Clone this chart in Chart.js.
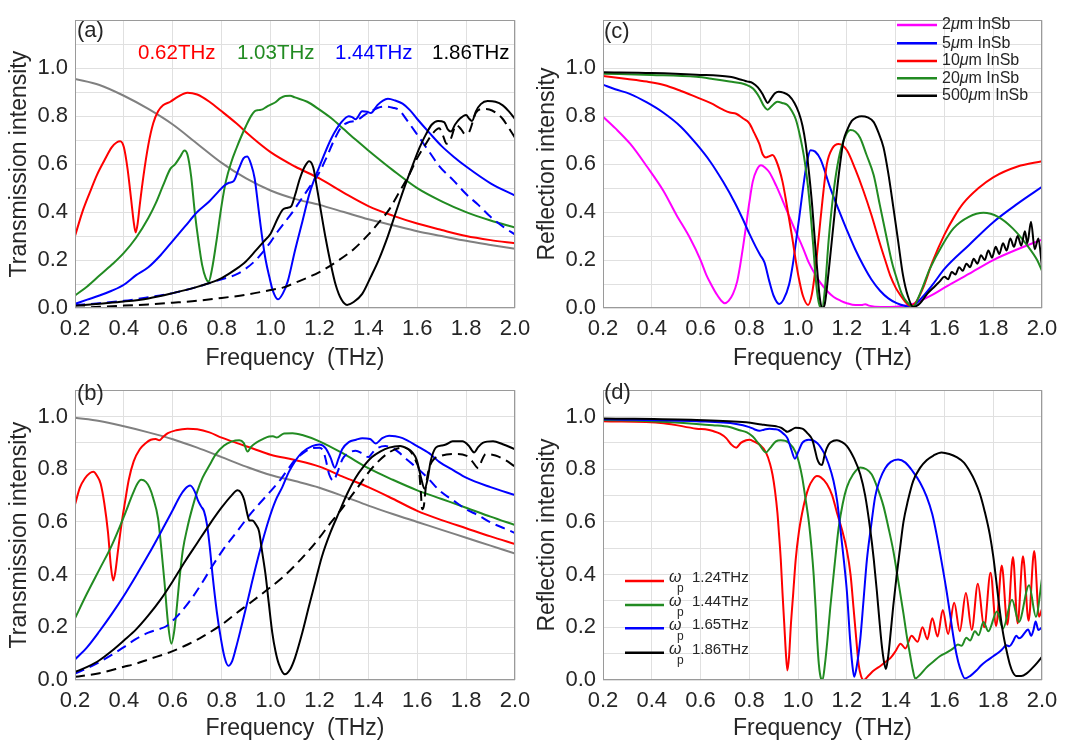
<!DOCTYPE html>
<html><head><meta charset="utf-8">
<script src="https://cdn.jsdelivr.net/npm/chart.js@4.4.1/dist/chart.umd.min.js"></script>
<style>
html,body{margin:0;padding:0;background:#fff;width:1067px;height:749px;overflow:hidden;position:relative}
canvas{position:absolute}
</style>
</head><body>
<canvas id="ca" width="541" height="375" style="left:0;top:0"></canvas>
<canvas id="cb" width="541" height="379" style="left:0;top:370px"></canvas>
<canvas id="cc" width="534" height="375" style="left:533px;top:0"></canvas>
<canvas id="cd" width="534" height="379" style="left:533px;top:370px"></canvas>
<script>
// ---------- DATA: frequency (THz), intensity ----------
// Panel (a): transmission
const a_gray = [[0.2,0.955],[0.3,0.93],[0.4,0.885],[0.5,0.83],[0.6,0.765],[0.7,0.685],[0.8,0.605],[0.9,0.54],[1.0,0.49],[1.1,0.455],[1.2,0.43],[1.3,0.40],[1.4,0.37],[1.5,0.345],[1.6,0.32],[1.7,0.30],[1.8,0.28],[1.9,0.263],[2.0,0.247]];
const a_red = [[0.2,0.30],[0.23,0.40],[0.26,0.48],[0.29,0.555],[0.32,0.615],[0.35,0.67],[0.37,0.69],[0.385,0.695],[0.40,0.67],[0.415,0.58],[0.43,0.45],[0.44,0.36],[0.448,0.315],[0.456,0.35],[0.465,0.43],[0.48,0.55],[0.50,0.68],[0.52,0.77],[0.54,0.82],[0.56,0.845],[0.59,0.86],[0.62,0.88],[0.66,0.898],[0.70,0.89],[0.75,0.86],[0.80,0.82],[0.86,0.77],[0.92,0.715],[1.0,0.65],[1.1,0.59],[1.2,0.54],[1.3,0.48],[1.4,0.425],[1.5,0.385],[1.6,0.352],[1.7,0.325],[1.8,0.30],[1.9,0.283],[2.0,0.27]];
const a_green = [[0.2,0.052],[0.25,0.09],[0.3,0.135],[0.35,0.18],[0.4,0.23],[0.45,0.293],[0.5,0.375],[0.53,0.436],[0.56,0.51],[0.59,0.58],[0.61,0.60],[0.63,0.63],[0.648,0.657],[0.66,0.64],[0.675,0.55],[0.69,0.40],[0.705,0.28],[0.72,0.18],[0.735,0.125],[0.747,0.11],[0.76,0.16],[0.777,0.267],[0.80,0.43],[0.817,0.527],[0.84,0.61],[0.86,0.665],[0.88,0.715],[0.90,0.76],[0.92,0.80],[0.935,0.82],[0.95,0.825],[0.967,0.828],[0.985,0.84],[1.0,0.848],[1.02,0.858],[1.04,0.875],[1.06,0.884],[1.08,0.885],[1.1,0.878],[1.15,0.86],[1.2,0.827],[1.25,0.79],[1.3,0.745],[1.35,0.70],[1.4,0.657],[1.5,0.575],[1.6,0.50],[1.7,0.445],[1.8,0.40],[1.9,0.365],[2.0,0.335]];
const a_blue = [[0.2,0.017],[0.25,0.035],[0.3,0.052],[0.35,0.072],[0.4,0.097],[0.45,0.137],[0.5,0.17],[0.55,0.22],[0.6,0.28],[0.65,0.34],[0.7,0.40],[0.75,0.445],[0.78,0.478],[0.81,0.51],[0.83,0.522],[0.85,0.53],[0.87,0.58],[0.89,0.625],[0.905,0.632],[0.92,0.60],[0.935,0.54],[0.95,0.42],[0.965,0.30],[0.98,0.20],[0.995,0.13],[1.01,0.07],[1.03,0.036],[1.05,0.06],[1.07,0.11],[1.1,0.24],[1.13,0.36],[1.16,0.48],[1.2,0.59],[1.25,0.71],[1.29,0.775],[1.32,0.80],[1.335,0.795],[1.348,0.787],[1.375,0.82],[1.395,0.818],[1.41,0.813],[1.437,0.846],[1.46,0.865],[1.48,0.872],[1.51,0.865],[1.54,0.852],[1.57,0.825],[1.6,0.788],[1.65,0.73],[1.7,0.675],[1.75,0.63],[1.8,0.59],[1.9,0.52],[2.0,0.469]];
const a_blueDash = [[0.2,0.012],[0.3,0.02],[0.4,0.03],[0.5,0.045],[0.6,0.062],[0.7,0.088],[0.75,0.104],[0.8,0.12],[0.86,0.14],[0.9,0.165],[0.94,0.2],[0.97,0.235],[1.0,0.275],[1.03,0.32],[1.06,0.36],[1.09,0.40],[1.12,0.445],[1.16,0.505],[1.2,0.566],[1.23,0.63],[1.26,0.70],[1.29,0.755],[1.32,0.775],[1.345,0.78],[1.36,0.787],[1.385,0.805],[1.41,0.82],[1.44,0.835],[1.47,0.84],[1.5,0.835],[1.525,0.826],[1.56,0.78],[1.6,0.723],[1.65,0.65],[1.69,0.592],[1.75,0.53],[1.8,0.475],[1.85,0.43],[1.9,0.38],[1.95,0.34],[2.0,0.306]];
const a_black = [[0.2,0.009],[0.3,0.018],[0.4,0.027],[0.5,0.04],[0.6,0.062],[0.7,0.088],[0.75,0.104],[0.8,0.125],[0.86,0.163],[0.9,0.195],[0.94,0.24],[0.97,0.275],[1.0,0.31],[1.03,0.375],[1.05,0.41],[1.07,0.418],[1.085,0.425],[1.1,0.47],[1.12,0.54],[1.14,0.59],[1.158,0.612],[1.175,0.585],[1.19,0.50],[1.21,0.38],[1.225,0.293],[1.245,0.19],[1.266,0.098],[1.29,0.035],[1.313,0.013],[1.34,0.025],[1.375,0.059],[1.41,0.13],[1.443,0.202],[1.48,0.30],[1.512,0.397],[1.55,0.51],[1.58,0.592],[1.61,0.67],[1.635,0.723],[1.66,0.765],[1.685,0.78],[1.71,0.775],[1.725,0.745],[1.738,0.736],[1.755,0.765],[1.775,0.79],[1.8,0.805],[1.812,0.79],[1.824,0.78],[1.84,0.82],[1.86,0.85],[1.888,0.863],[1.92,0.86],[1.95,0.845],[1.975,0.82],[2.0,0.788]];
const a_blackDash = [[0.2,0.0],[0.3,0.005],[0.4,0.01],[0.5,0.015],[0.6,0.022],[0.7,0.03],[0.8,0.042],[0.9,0.055],[1.0,0.075],[1.05,0.085],[1.1,0.105],[1.2,0.15],[1.28,0.2],[1.34,0.245],[1.4,0.306],[1.45,0.365],[1.485,0.41],[1.53,0.49],[1.566,0.553],[1.6,0.625],[1.635,0.684],[1.665,0.73],[1.69,0.749],[1.705,0.72],[1.72,0.685],[1.735,0.7],[1.76,0.762],[1.78,0.745],[1.795,0.725],[1.81,0.73],[1.84,0.814],[1.87,0.83],[1.895,0.828],[1.92,0.815],[1.95,0.788],[1.975,0.75],[2.0,0.71]];
const a_labels = ['0.62THz','1.03THz','1.44THz','1.86THz'];

// Panel (b): transmission
const b_gray = [[0.2,0.995],[0.3,0.983],[0.4,0.963],[0.5,0.94],[0.6,0.914],[0.7,0.882],[0.8,0.846],[0.9,0.81],[1.0,0.778],[1.1,0.755],[1.2,0.73],[1.3,0.697],[1.4,0.662],[1.5,0.63],[1.6,0.60],[1.7,0.57],[1.8,0.54],[1.9,0.51],[2.0,0.48]];
const b_red = [[0.2,0.666],[0.22,0.73],[0.24,0.765],[0.26,0.785],[0.275,0.79],[0.29,0.775],[0.305,0.745],[0.32,0.67],[0.335,0.56],[0.347,0.43],[0.356,0.378],[0.365,0.41],[0.376,0.492],[0.39,0.59],[0.404,0.672],[0.42,0.76],[0.44,0.83],[0.465,0.876],[0.49,0.9],[0.51,0.912],[0.53,0.915],[0.545,0.91],[0.56,0.922],[0.58,0.937],[0.614,0.948],[0.66,0.954],[0.7,0.952],[0.75,0.94],[0.8,0.92],[0.86,0.9],[0.93,0.878],[1.0,0.855],[1.1,0.835],[1.2,0.81],[1.3,0.77],[1.4,0.732],[1.5,0.688],[1.6,0.642],[1.7,0.607],[1.8,0.576],[1.9,0.545],[2.0,0.516]];
const b_green = [[0.2,0.234],[0.25,0.33],[0.3,0.42],[0.35,0.51],[0.4,0.62],[0.437,0.708],[0.455,0.745],[0.471,0.76],[0.49,0.752],[0.505,0.73],[0.52,0.69],[0.54,0.612],[0.553,0.50],[0.566,0.372],[0.58,0.22],[0.594,0.138],[0.605,0.18],[0.614,0.252],[0.627,0.38],[0.641,0.492],[0.66,0.58],[0.682,0.66],[0.7,0.715],[0.722,0.768],[0.75,0.815],[0.777,0.858],[0.81,0.89],[0.84,0.905],[0.872,0.91],[0.89,0.9],[0.906,0.867],[0.92,0.885],[0.94,0.9],[0.97,0.915],[0.994,0.924],[1.01,0.925],[1.025,0.92],[1.055,0.936],[1.09,0.937],[1.13,0.93],[1.2,0.906],[1.3,0.858],[1.4,0.804],[1.5,0.76],[1.6,0.72],[1.7,0.687],[1.8,0.654],[1.9,0.62],[2.0,0.588]];
const b_blue = [[0.2,0.078],[0.25,0.125],[0.3,0.185],[0.35,0.25],[0.4,0.32],[0.45,0.396],[0.5,0.475],[0.56,0.576],[0.6,0.645],[0.628,0.696],[0.65,0.725],[0.671,0.738],[0.69,0.715],[0.702,0.684],[0.715,0.66],[0.728,0.64],[0.74,0.59],[0.752,0.50],[0.763,0.396],[0.78,0.26],[0.797,0.156],[0.812,0.085],[0.827,0.054],[0.842,0.07],[0.858,0.12],[0.88,0.2],[0.9,0.276],[0.92,0.355],[0.94,0.432],[0.965,0.52],[0.994,0.612],[1.02,0.68],[1.048,0.732],[1.075,0.79],[1.1,0.83],[1.129,0.864],[1.17,0.888],[1.2,0.894],[1.225,0.88],[1.245,0.845],[1.263,0.806],[1.278,0.84],[1.293,0.876],[1.32,0.903],[1.35,0.912],[1.375,0.918],[1.407,0.915],[1.43,0.898],[1.457,0.918],[1.485,0.927],[1.51,0.925],[1.54,0.918],[1.6,0.888],[1.65,0.86],[1.69,0.828],[1.75,0.795],[1.8,0.768],[1.9,0.732],[2.0,0.702]];
const b_blueDash = [[0.2,0.024],[0.25,0.045],[0.3,0.068],[0.35,0.095],[0.4,0.125],[0.45,0.156],[0.5,0.18],[0.55,0.195],[0.573,0.204],[0.6,0.225],[0.628,0.252],[0.67,0.30],[0.722,0.372],[0.76,0.43],[0.804,0.492],[0.86,0.56],[0.913,0.625],[0.95,0.665],[0.994,0.71],[1.04,0.76],[1.074,0.804],[1.1,0.835],[1.129,0.858],[1.17,0.88],[1.2,0.882],[1.215,0.87],[1.225,0.84],[1.24,0.78],[1.258,0.756],[1.27,0.78],[1.28,0.804],[1.295,0.84],[1.313,0.858],[1.348,0.87],[1.375,0.86],[1.4,0.846],[1.415,0.86],[1.43,0.876],[1.47,0.888],[1.5,0.88],[1.525,0.864],[1.56,0.835],[1.6,0.804],[1.65,0.76],[1.69,0.72],[1.75,0.68],[1.8,0.648],[1.85,0.625],[1.9,0.598],[1.95,0.578],[2.0,0.558]];
const b_black = [[0.2,0.03],[0.25,0.05],[0.3,0.075],[0.35,0.11],[0.4,0.15],[0.45,0.192],[0.5,0.245],[0.55,0.305],[0.6,0.375],[0.65,0.45],[0.7,0.52],[0.75,0.59],[0.8,0.655],[0.84,0.70],[0.865,0.72],[0.88,0.71],[0.892,0.684],[0.905,0.63],[0.913,0.605],[0.925,0.605],[0.94,0.59],[0.953,0.564],[0.965,0.49],[0.98,0.396],[0.993,0.29],[1.007,0.18],[1.02,0.11],[1.034,0.06],[1.058,0.022],[1.08,0.04],[1.1,0.084],[1.13,0.18],[1.156,0.276],[1.185,0.38],[1.21,0.468],[1.245,0.56],[1.28,0.636],[1.315,0.71],[1.348,0.768],[1.38,0.81],[1.415,0.846],[1.45,0.868],[1.485,0.882],[1.53,0.888],[1.56,0.878],[1.58,0.864],[1.598,0.835],[1.615,0.77],[1.63,0.726],[1.642,0.76],[1.655,0.83],[1.676,0.882],[1.7,0.89],[1.717,0.894],[1.745,0.906],[1.785,0.906],[1.81,0.89],[1.833,0.864],[1.85,0.885],[1.868,0.9],[1.91,0.906],[1.95,0.895],[2.0,0.876]];
const b_blackDash = [[0.2,0.012],[0.3,0.026],[0.4,0.05],[0.45,0.062],[0.5,0.078],[0.587,0.105],[0.65,0.13],[0.722,0.165],[0.8,0.21],[0.858,0.252],[0.92,0.295],[0.994,0.348],[1.05,0.39],[1.1,0.435],[1.15,0.485],[1.2,0.54],[1.24,0.59],[1.28,0.636],[1.348,0.72],[1.415,0.804],[1.485,0.864],[1.54,0.882],[1.565,0.875],[1.58,0.858],[1.595,0.83],[1.608,0.79],[1.615,0.71],[1.62,0.648],[1.627,0.66],[1.635,0.73],[1.645,0.79],[1.66,0.828],[1.7,0.852],[1.76,0.858],[1.8,0.852],[1.825,0.83],[1.85,0.804],[1.865,0.835],[1.88,0.858],[1.92,0.852],[1.96,0.835],[2.0,0.81]];

// Panel (c): reflection vs InSb thickness
const c_names = ['2\u03bcm InSb','5\u03bcm InSb','10\u03bcm InSb','20\u03bcm InSb','500\u03bcm InSb'];
const c_2um = [[0.2,0.798],[0.25,0.75],[0.312,0.684],[0.38,0.59],[0.448,0.488],[0.5,0.39],[0.556,0.293],[0.6,0.2],[0.624,0.137],[0.645,0.095],[0.665,0.059],[0.685,0.03],[0.699,0.02],[0.715,0.03],[0.733,0.059],[0.75,0.11],[0.76,0.163],[0.775,0.26],[0.787,0.345],[0.8,0.44],[0.814,0.527],[0.83,0.575],[0.848,0.595],[0.865,0.585],[0.882,0.566],[0.91,0.51],[0.936,0.449],[0.96,0.39],[0.99,0.319],[1.02,0.25],[1.044,0.189],[1.07,0.14],[1.092,0.105],[1.12,0.07],[1.146,0.046],[1.175,0.03],[1.2,0.02],[1.235,0.012],[1.26,0.012],[1.275,0.016],[1.29,0.01],[1.34,0.004],[1.4,0.005],[1.44,0.01],[1.47,0.017],[1.55,0.055],[1.6,0.085],[1.7,0.142],[1.8,0.2],[1.9,0.245],[2.0,0.285]];
const c_5um = [[0.2,0.931],[0.25,0.912],[0.312,0.892],[0.38,0.857],[0.448,0.814],[0.52,0.755],[0.583,0.684],[0.64,0.61],[0.692,0.527],[0.74,0.44],[0.773,0.371],[0.8,0.31],[0.827,0.254],[0.845,0.22],[0.862,0.19],[0.882,0.111],[0.9,0.05],[0.922,0.017],[0.94,0.035],[0.963,0.098],[0.978,0.18],[0.99,0.267],[1.005,0.38],[1.017,0.475],[1.035,0.60],[1.051,0.658],[1.07,0.652],[1.092,0.62],[1.132,0.50],[1.166,0.41],[1.2,0.325],[1.234,0.245],[1.268,0.176],[1.3,0.12],[1.336,0.072],[1.37,0.04],[1.404,0.02],[1.44,0.008],[1.465,0.005],[1.5,0.035],[1.55,0.095],[1.6,0.163],[1.7,0.262],[1.8,0.358],[1.9,0.435],[2.0,0.505]];
const c_10um = [[0.2,0.967],[0.3,0.955],[0.38,0.944],[0.45,0.93],[0.52,0.905],[0.583,0.879],[0.64,0.855],[0.692,0.827],[0.72,0.815],[0.746,0.81],[0.775,0.79],[0.8,0.77],[0.82,0.73],[0.841,0.684],[0.855,0.64],[0.868,0.628],[0.88,0.632],[0.895,0.638],[0.91,0.615],[0.936,0.527],[0.955,0.42],[0.976,0.293],[0.99,0.2],[1.003,0.124],[1.02,0.05],[1.041,0.013],[1.057,0.06],[1.071,0.163],[1.085,0.3],[1.1,0.45],[1.118,0.6],[1.14,0.665],[1.166,0.684],[1.2,0.658],[1.234,0.58],[1.268,0.488],[1.3,0.39],[1.336,0.267],[1.36,0.19],[1.377,0.137],[1.4,0.085],[1.418,0.055],[1.44,0.025],[1.459,0.009],[1.48,0.02],[1.513,0.085],[1.55,0.19],[1.6,0.306],[1.64,0.38],[1.677,0.436],[1.74,0.5],[1.8,0.545],[1.9,0.59],[2.0,0.612]];
const c_20um = [[0.2,0.977],[0.4,0.972],[0.583,0.964],[0.65,0.955],[0.719,0.944],[0.787,0.931],[0.815,0.915],[0.841,0.879],[0.858,0.845],[0.875,0.827],[0.89,0.84],[0.915,0.86],[0.935,0.855],[0.956,0.846],[0.975,0.82],[0.99,0.788],[1.005,0.73],[1.024,0.632],[1.04,0.51],[1.051,0.397],[1.062,0.26],[1.071,0.137],[1.08,0.05],[1.088,0.01],[1.098,0.0],[1.11,0.08],[1.125,0.28],[1.146,0.488],[1.166,0.62],[1.186,0.697],[1.214,0.742],[1.235,0.735],[1.254,0.71],[1.28,0.64],[1.31,0.553],[1.335,0.43],[1.363,0.293],[1.385,0.19],[1.404,0.124],[1.425,0.06],[1.445,0.026],[1.472,0.007],[1.5,0.06],[1.54,0.163],[1.59,0.26],[1.637,0.332],[1.7,0.38],[1.76,0.397],[1.82,0.38],[1.88,0.332],[1.94,0.26],[1.98,0.2],[2.0,0.155]];
const c_500um = [[0.2,0.983],[0.4,0.98],[0.583,0.973],[0.719,0.964],[0.773,0.95],[0.79,0.945],[0.814,0.938],[0.835,0.92],[0.854,0.892],[0.865,0.87],[0.875,0.855],[0.89,0.875],[0.905,0.895],[0.92,0.902],[0.94,0.898],[0.963,0.885],[0.985,0.855],[1.003,0.814],[1.018,0.76],[1.031,0.684],[1.045,0.56],[1.058,0.423],[1.068,0.29],[1.078,0.163],[1.088,0.05],[1.1,0.0],[1.11,0.02],[1.125,0.15],[1.146,0.358],[1.166,0.55],[1.186,0.697],[1.2,0.74],[1.22,0.78],[1.24,0.795],[1.26,0.80],[1.285,0.795],[1.31,0.775],[1.33,0.73],[1.35,0.67],[1.37,0.56],[1.39,0.423],[1.41,0.28],[1.43,0.137],[1.45,0.05],[1.472,0.004],[1.5,0.02],[1.53,0.06],[1.56,0.09],[1.58,0.11],[1.6,0.13],[1.615,0.12],[1.63,0.15],[1.645,0.14],[1.66,0.17],[1.675,0.155],[1.69,0.185],[1.705,0.17],[1.72,0.205],[1.735,0.185],[1.75,0.22],[1.765,0.2],[1.78,0.24],[1.795,0.21],[1.81,0.255],[1.825,0.225],[1.84,0.27],[1.855,0.24],[1.87,0.29],[1.885,0.255],[1.9,0.30],[1.915,0.26],[1.93,0.32],[1.94,0.27],[1.955,0.36],[1.97,0.245],[1.985,0.29],[2.0,0.17]];

// Panel (d): reflection vs plasma frequency
const d_names = ['1.24THz','1.44THz','1.65THz','1.86THz'];
const d_124 = [[0.2,0.982],[0.448,0.975],[0.583,0.954],[0.63,0.95],[0.651,0.945],[0.68,0.935],[0.705,0.918],[0.725,0.895],[0.746,0.882],[0.765,0.9],[0.787,0.91],[0.8,0.912],[0.82,0.905],[0.841,0.894],[0.868,0.864],[0.885,0.82],[0.895,0.78],[0.905,0.72],[0.915,0.636],[0.922,0.55],[0.929,0.456],[0.936,0.33],[0.943,0.216],[0.95,0.1],[0.956,0.036],[0.963,0.09],[0.97,0.204],[0.98,0.33],[0.99,0.456],[1.003,0.56],[1.017,0.636],[1.03,0.69],[1.044,0.732],[1.06,0.76],[1.077,0.774],[1.092,0.77],[1.118,0.744],[1.14,0.70],[1.159,0.636],[1.18,0.57],[1.2,0.492],[1.215,0.40],[1.227,0.276],[1.238,0.16],[1.248,0.06],[1.258,0.015],[1.268,0.0],[1.29,0.018],[1.31,0.036],[1.34,0.055],[1.363,0.072],[1.38,0.085],[1.4,0.11],[1.42,0.138],[1.44,0.12],[1.465,0.168],[1.49,0.145],[1.51,0.2],[1.53,0.155],[1.55,0.234],[1.572,0.165],[1.593,0.266],[1.615,0.175],[1.64,0.293],[1.663,0.185],[1.688,0.33],[1.712,0.19],[1.737,0.365],[1.763,0.2],[1.789,0.407],[1.812,0.205],[1.835,0.435],[1.858,0.21],[1.881,0.467],[1.9,0.215],[1.922,0.47],[1.945,0.225],[1.968,0.49],[1.988,0.24],[2.0,0.27]];
const d_144 = [[0.2,0.987],[0.4,0.982],[0.583,0.972],[0.65,0.967],[0.719,0.96],[0.76,0.948],[0.79,0.94],[0.814,0.924],[0.84,0.895],[0.868,0.864],[0.885,0.88],[0.909,0.906],[0.929,0.91],[0.963,0.9],[0.99,0.864],[1.005,0.82],[1.017,0.768],[1.03,0.69],[1.044,0.6],[1.055,0.5],[1.064,0.396],[1.072,0.27],[1.078,0.156],[1.085,0.06],[1.094,0.005],[1.1,0.0],[1.11,0.06],[1.12,0.15],[1.132,0.276],[1.15,0.44],[1.166,0.576],[1.183,0.67],[1.2,0.732],[1.225,0.78],[1.255,0.807],[1.28,0.8],[1.302,0.78],[1.325,0.73],[1.35,0.66],[1.37,0.58],[1.39,0.492],[1.41,0.38],[1.432,0.252],[1.445,0.17],[1.459,0.096],[1.47,0.04],[1.48,0.006],[1.5,0.02],[1.527,0.048],[1.555,0.07],[1.581,0.09],[1.61,0.105],[1.636,0.12],[1.655,0.135],[1.67,0.13],[1.69,0.16],[1.705,0.15],[1.725,0.185],[1.74,0.17],[1.76,0.22],[1.78,0.185],[1.815,0.26],[1.84,0.195],[1.877,0.305],[1.905,0.22],[1.947,0.36],[1.975,0.24],[2.0,0.385]];
const d_165 = [[0.2,0.99],[0.583,0.982],[0.746,0.972],[0.8,0.96],[0.82,0.952],[0.841,0.946],[0.86,0.95],[0.882,0.954],[0.905,0.952],[0.922,0.948],[0.94,0.935],[0.956,0.918],[0.972,0.875],[0.987,0.84],[1.0,0.865],[1.017,0.9],[1.044,0.912],[1.078,0.9],[1.105,0.864],[1.125,0.82],[1.145,0.756],[1.16,0.68],[1.173,0.576],[1.188,0.45],[1.2,0.336],[1.213,0.156],[1.222,0.06],[1.23,0.012],[1.24,0.05],[1.255,0.156],[1.268,0.3],[1.282,0.456],[1.3,0.59],[1.316,0.696],[1.335,0.76],[1.357,0.804],[1.38,0.828],[1.41,0.837],[1.44,0.825],[1.47,0.792],[1.5,0.75],[1.527,0.696],[1.55,0.63],[1.568,0.552],[1.59,0.44],[1.609,0.336],[1.623,0.25],[1.636,0.168],[1.65,0.095],[1.663,0.048],[1.684,0.006],[1.705,0.015],[1.731,0.036],[1.75,0.055],[1.772,0.072],[1.8,0.09],[1.827,0.108],[1.84,0.12],[1.853,0.132],[1.866,0.128],[1.88,0.144],[1.895,0.168],[1.905,0.158],[1.915,0.162],[1.93,0.18],[1.943,0.192],[1.956,0.168],[1.965,0.19],[1.974,0.222],[1.985,0.19],[2.0,0.2]];
const d_186 = [[0.2,0.993],[0.583,0.987],[0.787,0.978],[0.85,0.97],[0.882,0.966],[0.91,0.963],[0.929,0.958],[0.945,0.948],[0.956,0.942],[0.97,0.948],[0.99,0.957],[1.017,0.954],[1.04,0.935],[1.058,0.912],[1.07,0.87],[1.078,0.84],[1.088,0.82],[1.098,0.816],[1.11,0.86],[1.125,0.894],[1.145,0.908],[1.159,0.91],[1.18,0.903],[1.2,0.888],[1.23,0.84],[1.255,0.78],[1.275,0.7],[1.295,0.576],[1.31,0.46],[1.323,0.336],[1.333,0.23],[1.343,0.132],[1.352,0.07],[1.36,0.042],[1.368,0.08],[1.377,0.156],[1.39,0.28],[1.404,0.396],[1.418,0.5],[1.432,0.6],[1.45,0.68],[1.472,0.756],[1.5,0.805],[1.527,0.834],[1.555,0.852],[1.588,0.864],[1.62,0.858],[1.65,0.846],[1.68,0.825],[1.704,0.792],[1.725,0.755],[1.745,0.708],[1.765,0.64],[1.786,0.552],[1.8,0.47],[1.813,0.372],[1.826,0.27],[1.84,0.18],[1.855,0.11],[1.868,0.06],[1.88,0.03],[1.895,0.015],[1.915,0.015],[1.936,0.024],[1.96,0.045],[1.98,0.065],[2.0,0.088]];

// ---------- STYLE ----------
const FONT = "'Liberation Sans', Arial, Helvetica, sans-serif";
const TXT = '#262626';
const GRID = '#e0e0e0';
const RED = '#ff0000', GREEN = '#228b22', BLUE = '#0000ff', BLACK = '#000000', GRAY = '#808080', MAG = '#ff00ff';

const DECOR = {
  ca: {label:'(a)', lx:77, ly:31,
       texts:[{t:a_labels[0],x:138,y:53,c:RED},{t:a_labels[1],x:237,y:53,c:GREEN},{t:a_labels[2],x:335,y:53,c:BLUE},{t:a_labels[3],x:432,y:53,c:BLACK}]},
  cb: {label:'(b)', lx:77, ly:24},
  cc: {label:'(c)', lx:71, ly:32,
       legend:{type:'plain', x0:364, x1:404, tx:409, ys:[25,43.3,61,78.3,95.7], names:c_names, colors:[MAG,BLUE,RED,GREEN,BLACK]}},
  cd: {label:'(d)', lx:71, ly:23,
       legend:{type:'omega', x0:92, x1:131, tx:136, ys:[211,235,258.3,282.7], names:d_names, colors:[RED,GREEN,BLUE,BLACK]}}
};

const decor = {
  id:'decor',
  afterDraw(chart){
    const d = DECOR[chart.canvas.id]; const ctx = chart.ctx; const a = chart.chartArea;
    ctx.save();
    ctx.strokeStyle = '#9a9a9a'; ctx.lineWidth = 1; ctx.setLineDash([]);
    ctx.strokeRect(Math.round(a.left)+0.5, Math.round(a.top)+0.5, Math.round(a.right-a.left)-1, Math.round(a.bottom-a.top)-1);
    ctx.fillStyle = TXT; ctx.textBaseline = 'middle'; ctx.textAlign = 'left';
    ctx.font = '22px ' + FONT;
    ctx.fillText(d.label, d.lx, d.ly);
    if (d.texts) {
      ctx.font = '20.5px ' + FONT;
      d.texts.forEach(t => { ctx.fillStyle = t.c; ctx.fillText(t.t, t.x, t.y); });
    }
    if (d.legend) {
      const L = d.legend;
      L.names.forEach((nm, i) => {
        const y = L.ys[i];
        ctx.strokeStyle = L.colors[i]; ctx.lineWidth = 2.5;
        ctx.beginPath(); ctx.moveTo(L.x0, y); ctx.lineTo(L.x1, y); ctx.stroke();
        ctx.fillStyle = TXT;
        if (L.type === 'plain') {
          const parts = nm.split('\u03bc');
          let x = L.tx;
          ctx.font = '16px ' + FONT; ctx.fillText(parts[0], x, y); x += ctx.measureText(parts[0]).width;
          ctx.font = 'italic 16px ' + FONT; ctx.fillText('\u03bc', x, y); x += ctx.measureText('\u03bc').width;
          ctx.font = '16px ' + FONT; ctx.fillText(parts[1], x, y);
        } else {
          ctx.font = 'italic 16px ' + FONT; ctx.fillText('\u03c9', L.tx, y - 3);
          ctx.font = '12px ' + FONT; ctx.fillText('p', L.tx + 8, y + 8);
          ctx.font = '15px ' + FONT; ctx.fillText(nm, L.tx + 23, y - 3);
        }
      });
    }
    ctx.restore();
  }
};

function ds(pairs, color, dashed){
  return {data: pairs.map(p => ({x:p[0], y:p[1]})), borderColor: color, backgroundColor: color,
    borderWidth: 2, borderDash: dashed ? [10,6] : [], pointRadius: 0, fill: false,
    cubicInterpolationMode: 'monotone'};
}

function build(id, cfg){
  return new Chart(document.getElementById(id), {
    type: 'line',
    data: {datasets: cfg.datasets},
    options: {
      responsive: false, animation: false, devicePixelRatio: 1,
      layout: {padding: {left: 0, top: cfg.padTop, right: cfg.padRight, bottom: 0}},
      plugins: {legend: {display: false}, tooltip: {enabled: false}},
      scales: {
        x: {type: 'linear', min: 0.2, max: 2.0,
            afterFit(s){ s.height = cfg.xHeight; },
            ticks: {stepSize: 0.2, autoSkip: false, maxRotation: 0, padding: 8, color: TXT,
                    font: {family: FONT, size: 22}, callback: v => Number(v).toFixed(1)},
            grid: {color: GRID, drawTicks: false, lineWidth: 1}, border: {display: false},
            title: {display: true, text: 'Frequency  (THz)', color: TXT, font: {family: FONT, size: 23},
                    padding: {top: 0, bottom: cfg.xTitlePad}}},
        y: {type: 'linear', min: 0, max: cfg.yMax,
            afterFit(s){ s.width = cfg.yWidth; },
            ticks: {stepSize: 0.1, autoSkip: false, padding: 7, color: TXT, font: {family: FONT, size: 22},
                    callback: v => { const r = Math.round(v * 10); return (r % 2 === 0 && r <= 10) ? (r / 10).toFixed(1) : ''; }},
            grid: {color: GRID, drawTicks: false, lineWidth: 1}, border: {display: false},
            title: {display: true, text: cfg.yTitle, color: TXT, font: {family: FONT, size: 23},
                    padding: {top: cfg.yTitlePad, bottom: 0}}}
      }
    },
    plugins: [decor]
  });
}

build('ca', {yMax: 1.2, padTop: 1, padRight: 26, xHeight: 67, yWidth: 75, xTitlePad: 3, yTitlePad: 6,
  yTitle: 'Transmission intensity',
  datasets: [ds(a_black, BLACK), ds(a_blackDash, BLACK, true), ds(a_blue, BLUE), ds(a_blueDash, BLUE, true),
             ds(a_green, GREEN), ds(a_red, RED), ds(a_gray, GRAY)]});
build('cb', {yMax: 1.1, padTop: 4.2, padRight: 26, xHeight: 69, yWidth: 75, xTitlePad: 7, yTitlePad: 6,
  yTitle: 'Transmission intensity',
  datasets: [ds(b_black, BLACK), ds(b_blackDash, BLACK, true), ds(b_blue, BLUE), ds(b_blueDash, BLUE, true),
             ds(b_green, GREEN), ds(b_red, RED), ds(b_gray, GRAY)]});
build('cc', {yMax: 1.2, padTop: 1, padRight: 25, xHeight: 67, yWidth: 70, xTitlePad: 3, yTitlePad: 1,
  yTitle: 'Reflection intensity',
  datasets: [ds(c_500um, BLACK), ds(c_20um, GREEN), ds(c_10um, RED), ds(c_5um, BLUE), ds(c_2um, MAG)]});
build('cd', {yMax: 1.1, padTop: 4.2, padRight: 25, xHeight: 69, yWidth: 70, xTitlePad: 7, yTitlePad: 1,
  yTitle: 'Reflection intensity',
  datasets: [ds(d_186, BLACK), ds(d_165, BLUE), ds(d_144, GREEN), ds(d_124, RED)]});
</script>
</body></html>
